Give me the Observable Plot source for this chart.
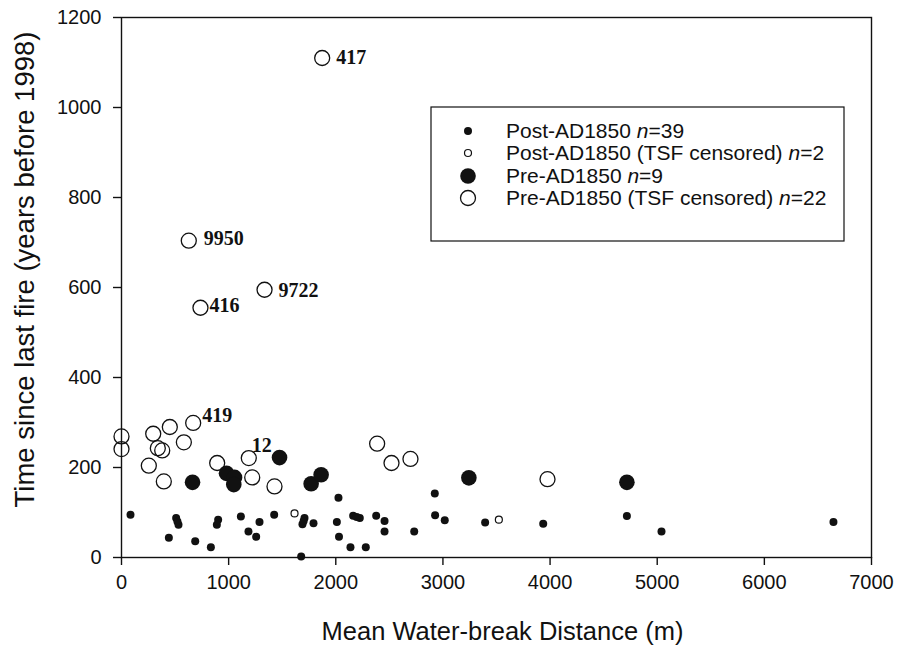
<!DOCTYPE html>
<html>
<head>
<meta charset="utf-8">
<script src="https://cdn.jsdelivr.net/npm/d3@7"></script>
<script src="https://cdn.jsdelivr.net/npm/@observablehq/plot@0.6"></script>
<style>
  html, body { margin: 0; padding: 0; background: #fff; }
  #chart { width: 898px; height: 646px; }
</style>
</head>
<body>
<div id="chart"></div>
<script>
// ---- Data ----
const xTicks = [0, 1000, 2000, 3000, 4000, 5000, 6000, 7000];
const yTicks = [0, 200, 400, 600, 800, 1000, 1200];

// Post-AD1850 (filled small)
const postX = [84, 510, 532, 442, 688, 834, 902, 890, 1114, 1185, 1288, 1257, 1425, 1708, 1689, 1792, 1677,
  2025, 2010, 2030, 2162, 2224, 2137, 2280, 2377, 2455, 2455, 2732, 2924, 2927, 3017, 3394, 3936, 4717, 5040, 6645,
  522, 2195, 1700];
const postY = [95, 88, 73, 44, 36, 23, 84, 73, 91, 58, 79, 46, 95, 88, 74, 76, 2,
  133, 79, 46, 93, 88, 23, 23, 93, 81, 58, 58, 142, 94, 83, 78, 75, 92, 58, 79,
  80, 90, 81];

// Post-AD1850 (TSF censored) (open small)
const postCensX = [1615, 3522];
const postCensY = [98, 84];

// Pre-AD1850 (filled large)
const preX = [663, 980, 1055, 1048, 1475, 1770, 1863, 3242, 4717];
const preY = [167, 187, 178, 162, 222, 164, 184, 177, 167];

// Pre-AD1850 (TSF censored) (open large)
const preCensX = [0, 0, 296, 451, 669, 582, 339, 380, 255, 395, 893, 1188, 1220, 1428,
  2386, 2520, 2697, 3976, 1873, 628, 737, 1335];
const preCensY = [269, 241, 275, 290, 299, 256, 243, 238, 204, 169, 210, 221, 178, 158,
  253, 210, 219, 174, 1110, 704, 555, 595];
const preCensLabel = ["", "", "", "", "419", "", "", "", "", "", "", "12", "", "",
  "", "", "", "", "417", "9950", "416", "9722"];

const legendLabels = ["Post-AD1850", "Post-AD1850 (TSF censored)", "Pre-AD1850", "Pre-AD1850 (TSF censored)"];
const legendN = [39, 2, 9, 22];

const xTitle = "Mean Water-break Distance (m)";
const yTitle = "Time since last fire (years before 1998)";

// ---- Build tables ----
const post = postX.map((x, i) => ({x, y: postY[i]}));
const postCens = postCensX.map((x, i) => ({x, y: postCensY[i]}));
const pre = preX.map((x, i) => ({x, y: preY[i]}));
const preCens = preCensX.map((x, i) => ({x, y: preCensY[i], label: preCensLabel[i]}));
const labelled = preCens.filter(d => d.label !== "");

// label offsets (styling, pixels)
const labelOffset = {"417": [14, 0], "9950": [15, -2], "416": [9, -2], "9722": [14, 1], "419": [9, -7], "12": [3, -12]};

const ink = "#111";
const sans = "'Liberation Sans', Arial, Helvetica, sans-serif";
const serif = "'Liberation Serif', 'Times New Roman', serif";

const chart = Plot.plot({
  width: 898,
  height: 646,
  marginLeft: 121,
  marginRight: 27,
  marginTop: 17,
  marginBottom: 89,
  x: {domain: [0, 7000]},
  y: {domain: [0, 1200]},
  style: {fontFamily: sans, fontSize: "20px", color: ink, background: "#fff", overflow: "visible"},
  marks: [
    Plot.frame({stroke: ink, strokeWidth: 1.4}),
    Plot.axisX({ticks: xTicks, tickSize: 8, tickPadding: 9, tickFormat: "d", label: null, fontSize: 20, strokeWidth: 1.4}),
    Plot.axisY({ticks: yTicks, tickSize: 8, tickPadding: 12, tickFormat: "d", label: null, fontSize: 20, strokeWidth: 1.4}),
    Plot.dot(preCens, {x: "x", y: "y", r: 7.5, fill: "none", stroke: ink, strokeWidth: 1.3}),
    Plot.dot(postCens, {x: "x", y: "y", r: 3.5, fill: "none", stroke: ink, strokeWidth: 1.2}),
    Plot.dot(pre, {x: "x", y: "y", r: 7.8, fill: ink, stroke: "none"}),
    Plot.dot(post, {x: "x", y: "y", r: 4, fill: ink, stroke: "none"}),
    ...labelled.map(d => Plot.text([d], {
      x: "x", y: "y", text: "label",
      dx: labelOffset[d.label][0], dy: labelOffset[d.label][1],
      textAnchor: "start", fontFamily: serif, fontWeight: "bold", fontSize: 20, fill: ink
    })),
    Plot.text([xTitle], {text: d => d, frameAnchor: "bottom", dx: 6, dy: 74, textAnchor: "middle", lineAnchor: "middle", fontSize: 25.5, fill: ink}),
    Plot.text([yTitle], {text: d => d, frameAnchor: "left", dx: -96, dy: -18, rotate: -90, textAnchor: "middle", lineAnchor: "middle", fontSize: 27.5, fill: ink})
  ]
});

document.getElementById("chart").appendChild(chart);

// ---- Legend inside the plot area ----
const svg = d3.select(chart);
const lg = svg.append("g").attr("font-family", sans).attr("font-size", 21).attr("fill", ink).attr("text-anchor", "start");
lg.append("rect").attr("x", 431).attr("y", 107).attr("width", 413).attr("height", 134)
  .attr("fill", "#fff").attr("stroke", ink).attr("stroke-width", 1.2);
const rowY = [131, 153, 176, 198];
const sym = [
  {r: 4, fill: ink, stroke: "none", sw: 0},
  {r: 3.5, fill: "none", stroke: ink, sw: 1.2},
  {r: 7.8, fill: ink, stroke: "none", sw: 0},
  {r: 7.5, fill: "none", stroke: ink, sw: 1.3}
];
legendLabels.forEach((lab, i) => {
  lg.append("circle").attr("cx", 468).attr("cy", rowY[i]).attr("r", sym[i].r)
    .attr("fill", sym[i].fill).attr("stroke", sym[i].stroke).attr("stroke-width", sym[i].sw);
  const t = lg.append("text").attr("x", 506).attr("y", rowY[i]).attr("dy", "0.35em").attr("text-anchor", "start");
  t.append("tspan").text(lab + " ");
  t.append("tspan").attr("font-style", "italic").text("n");
  t.append("tspan").text("=" + legendN[i]);
});
</script>
</body>
</html>
